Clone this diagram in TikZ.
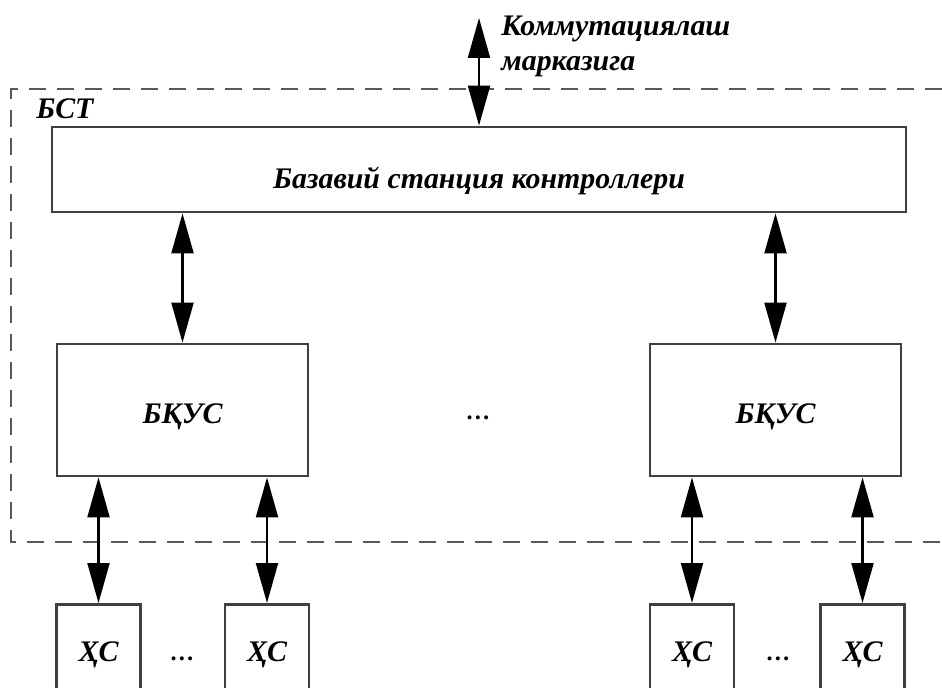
\documentclass[tikz,border=0pt]{standalone}
\usepackage{fontspec}
\setmainfont{Liberation Serif}
\usetikzlibrary{arrows.meta}
\tikzset{
  blok/.style={draw=black!75, line width=1.6pt, inner sep=0pt, text depth=0pt, font=\bfseries\itshape\fontsize{17}{20}\selectfont},
  yozuv/.style={inner sep=0pt, font=\bfseries\itshape\fontsize{17}{20}\selectfont},
  nuqta/.style={inner sep=0pt, anchor=base, font=\bfseries\fontsize{14}{16}\selectfont},
  ikki/.style={line width=1.2pt, {Triangle[length=0.8cm,width=0.44cm]}-{Triangle[length=0.8cm,width=0.44cm]}},
  chegara/.style={draw=black!65, line width=1.6pt, dash pattern=on 0.34cm off 0.22cm}
}
\begin{document}
\begin{tikzpicture}[x=0.02cm, y=-0.02cm]
  \useasboundingbox (0,0) rectangle (942,687);
  % BST chegarasi
  \draw[chegara] (942,89) -- (11,89) -- (11,542) -- (942,542);
  \node[yozuv, anchor=base west] (bst) at (36,118) {БСТ};
  \node[blok, text height=0.74cm, minimum width=17.08cm, minimum height=1.7cm] (bsk) at (479,169.5) {Базавий станция контроллери};
  \coordinate (kom) at (479,18);
  \node[yozuv, anchor=base west] (kom1) at (501,35) {Коммутациялаш};
  \node[yozuv, anchor=base west] (kom2) at (501,70) {марказига};
  \draw[ikki] (kom) -- (bsk.north);
  % BQUS bloklari
  \node[blok, text height=0.52cm, minimum width=5.02cm, minimum height=2.64cm] (bqus1) at (182.5,410) {БҚУС};
  \node[blok, text height=0.52cm, minimum width=5.02cm, minimum height=2.64cm] (bqus2) at (775.5,410) {БҚУС};
  \node[nuqta] (n1) at (478,419) {…};
  \draw[ikki] (bsk.south -| bqus1) -- (bqus1.north);
  \draw[ikki] (bsk.south -| bqus2) -- (bqus2.north);
  % HS bloklari
  \node[blok, text height=0.38cm, anchor=north, minimum width=1.68cm, minimum height=1.9cm] (hs1) at (98.5,603) {ҲС};
  \node[blok, text height=0.38cm, anchor=north, minimum width=1.68cm, minimum height=1.9cm] (hs2) at (267,603) {ҲС};
  \node[blok, text height=0.38cm, anchor=north, minimum width=1.68cm, minimum height=1.9cm] (hs3) at (692,603) {ҲС};
  \node[blok, text height=0.38cm, anchor=north, minimum width=1.68cm, minimum height=1.9cm] (hs4) at (862.5,603) {ҲС};
  \node[nuqta] (n2) at (182,660) {…};
  \node[nuqta] (n3) at (778,660) {…};
  \draw[ikki] (bqus1.south -| hs1) -- (hs1.north);
  \draw[ikki] (bqus1.south -| hs2) -- (hs2.north);
  \draw[ikki] (bqus2.south -| hs3) -- (hs3.north);
  \draw[ikki] (bqus2.south -| hs4) -- (hs4.north);
\end{tikzpicture}
\end{document}
